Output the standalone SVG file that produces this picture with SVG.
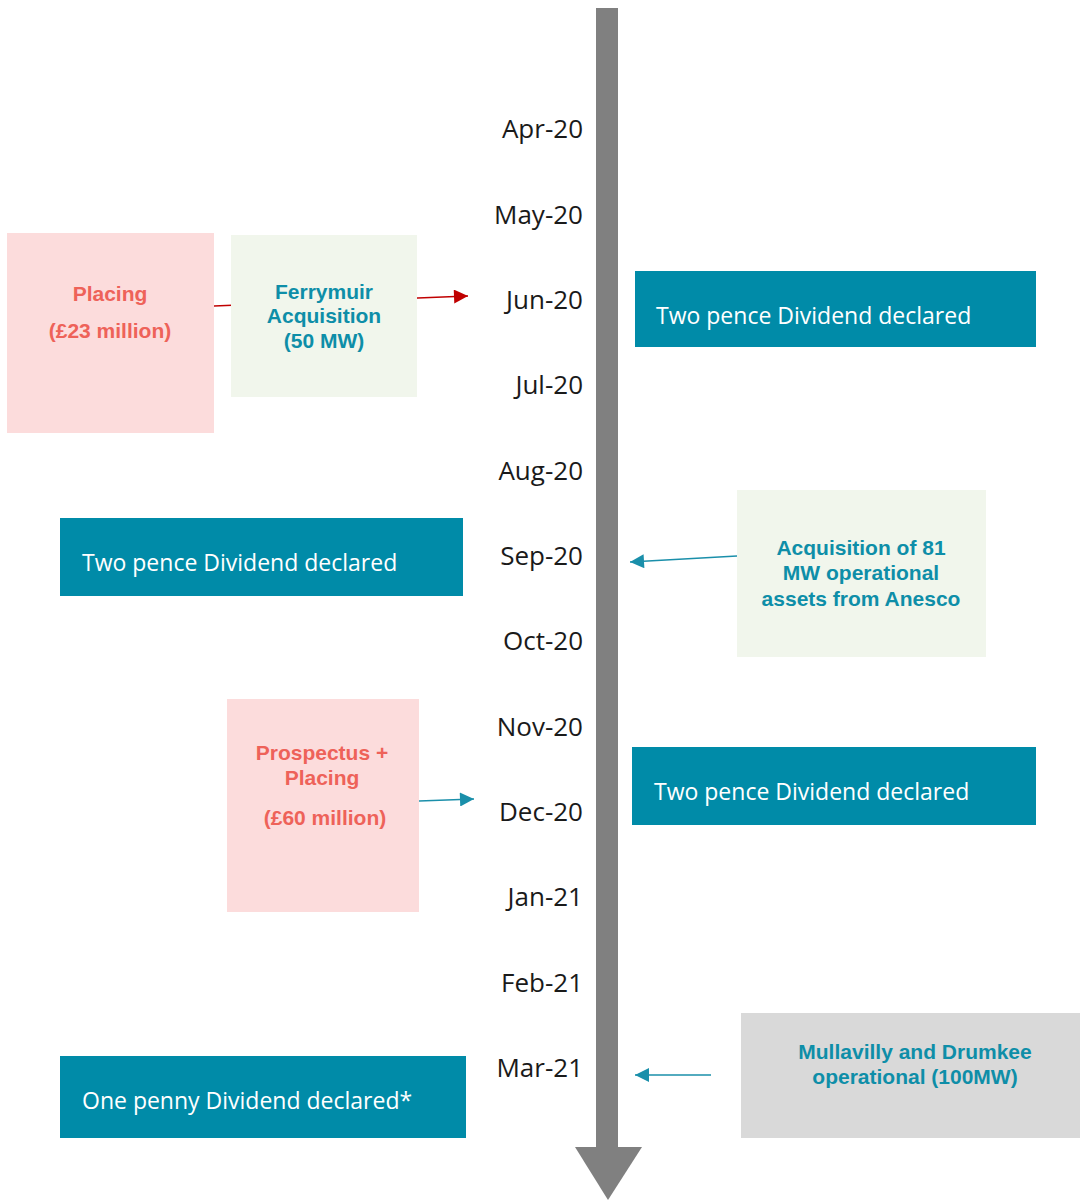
<svg xmlns="http://www.w3.org/2000/svg" width="1080" height="1200" viewBox="0 0 1080 1200">
<style>
.date{font-family:"Open Sans","Liberation Sans",sans-serif;font-size:26px;fill:#1a1a1a;text-anchor:end}
.div{fill:#008BA8}
.divt{font-family:"Open Sans","Liberation Sans",sans-serif;font-size:23px;fill:#ffffff}
.pink{fill:#FCDCDC}
.green{fill:#F1F6EC}
.grey{fill:#D9D9D9}
.bt{font-family:"Liberation Sans",Arial,sans-serif;font-size:21px;font-weight:bold;text-anchor:middle}
.red{fill:#EE6259}
.teal{fill:#0E8EA8}
.cr{stroke:#C00000;stroke-width:1.5;fill:none}
.ct{stroke:#1A8FAA;stroke-width:1.5;fill:none}
</style>
<defs>
<marker id="ar" viewBox="0 0 10 10" refX="10" refY="5" markerWidth="17" markerHeight="14" markerUnits="userSpaceOnUse" orient="auto"><path d="M0,0 L10,5 L0,10 z" fill="#C00000"/></marker>
<marker id="at2" viewBox="0 0 10 10" refX="10" refY="5" markerWidth="17" markerHeight="14" markerUnits="userSpaceOnUse" orient="auto"><path d="M0,0 L10,5 L0,10 z" fill="#1A8FAA"/></marker>
</defs>
<g id="timeline">
<rect x="596" y="8" width="22" height="1140" fill="#808080"/>
<polygon points="575,1147 642,1147 608,1200" fill="#808080"/>
</g>
<g id="dates">
<text class="date" x="583" y="138">Apr-20</text>
<text class="date" x="583" y="224">May-20</text>
<text class="date" x="583" y="309">Jun-20</text>
<text class="date" x="583" y="394">Jul-20</text>
<text class="date" x="583" y="480">Aug-20</text>
<text class="date" x="583" y="565">Sep-20</text>
<text class="date" x="583" y="650">Oct-20</text>
<text class="date" x="583" y="736">Nov-20</text>
<text class="date" x="583" y="821">Dec-20</text>
<text class="date" x="583" y="906">Jan-21</text>
<text class="date" x="583" y="992">Feb-21</text>
<text class="date" x="583" y="1077">Mar-21</text>
</g>
<g id="connectors">
<path class="cr" d="M214,306 L468,296" marker-end="url(#ar)"/>
<path class="ct" d="M737,556 L630,562" marker-end="url(#at2)"/>
<path class="ct" d="M419,801 L474,799" marker-end="url(#at2)"/>
<path class="ct" d="M711,1075 L635,1075" marker-end="url(#at2)"/>
</g>
<g id="placing">
<rect class="pink" x="7" y="233" width="207" height="200"/>
<text class="bt red" x="110" y="301">Placing</text>
<text class="bt red" x="110" y="338">(£23 million)</text>
</g>
<g id="ferrymuir">
<rect class="green" x="231" y="235" width="186" height="162"/>
<text class="bt teal" x="324" y="299">Ferrymuir</text>
<text class="bt teal" x="324" y="323">Acquisition</text>
<text class="bt teal" x="324" y="348">(50 MW)</text>
</g>
<g id="div-jun">
<rect class="div" x="635" y="271" width="401" height="76"/>
<text class="divt" x="656" y="324">Two pence Dividend declared</text>
</g>
<g id="div-sep">
<rect class="div" x="60" y="518" width="403" height="78"/>
<text class="divt" x="82" y="571">Two pence Dividend declared</text>
</g>
<g id="anesco">
<rect class="green" x="737" y="490" width="249" height="167"/>
<text class="bt teal" x="861" y="555">Acquisition of 81</text>
<text class="bt teal" x="861" y="580">MW operational</text>
<text class="bt teal" x="861" y="606">assets from Anesco</text>
</g>
<g id="prospectus">
<rect class="pink" x="227" y="699" width="192" height="213"/>
<text class="bt red" x="322" y="760">Prospectus +</text>
<text class="bt red" x="322" y="785">Placing</text>
<text class="bt red" x="325" y="825">(£60 million)</text>
</g>
<g id="div-dec">
<rect class="div" x="632" y="747" width="404" height="78"/>
<text class="divt" x="654" y="800">Two pence Dividend declared</text>
</g>
<g id="mullavilly">
<rect class="grey" x="741" y="1013" width="339" height="125"/>
<text class="bt teal" x="915" y="1059">Mullavilly and Drumkee</text>
<text class="bt teal" x="915" y="1084">operational (100MW)</text>
</g>
<g id="div-mar">
<rect class="div" x="60" y="1056" width="406" height="82"/>
<text class="divt" x="82" y="1109">One penny Dividend declared*</text>
</g>
</svg>
